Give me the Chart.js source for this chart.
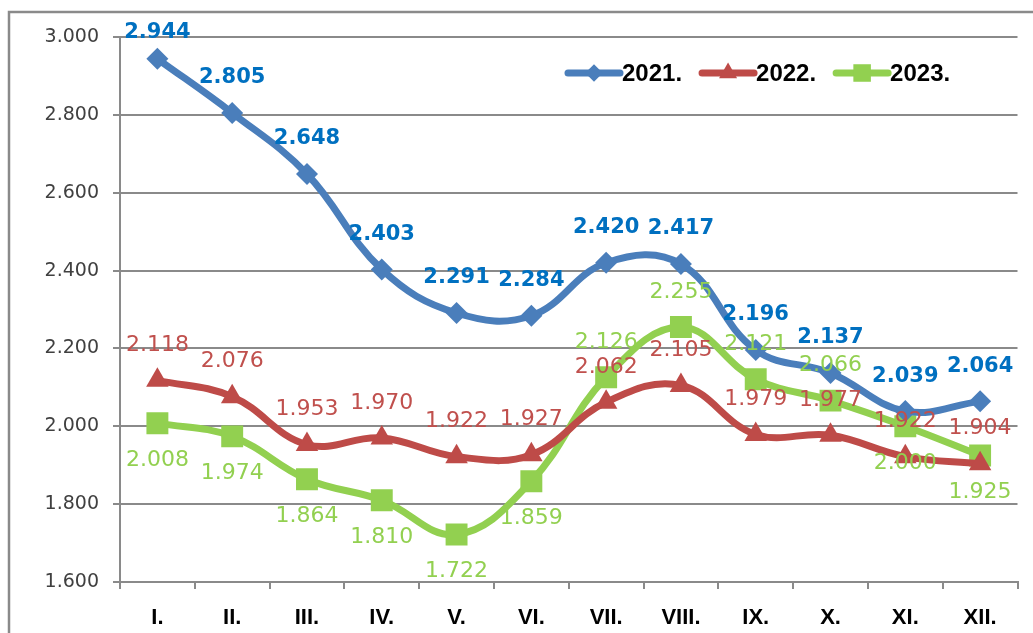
<!DOCTYPE html>
<html>
<head>
<meta charset="utf-8">
<script src="https://cdn.jsdelivr.net/npm/chart.js@4"></script>
<style>
  body { margin: 0; background: #fff; }
  #wrap { width: 1033px; height: 633px; }
</style>
</head>
<body>
<div id="wrap"><canvas id="myChart" width="1033" height="633"></canvas></div>
<script>
// mjeseci
let months = ['I.', 'II.', 'III.', 'IV.', 'V.', 'VI.', 'VII.', 'VIII.', 'IX.', 'X.', 'XI.', 'XII.']

let y2021 = [2944, 2805, 2648, 2403, 2291, 2284, 2420, 2417, 2196, 2137, 2039, 2064]
let y2022 = [2118, 2076, 1953, 1970, 1922, 1927, 2062, 2105, 1979, 1977, 1922, 1904]
let y2023 = [2008, 1974, 1864, 1810, 1722, 1859, 2126, 2255, 2121, 2066, 2000, 1925]

let yMin = 1600
let yMax = 3000
let yStep = 200

// "2944" -> "2.944"
function fmt(v) {
    let s = String(Math.round(v))
    return s.replace(/\B(?=(\d{3})+(?!\d))/g, '.')
}

// where each label goes relative to its point
let side2021 = 'above'
let side2022 = 'above'
let side2023 = ['below', 'below', 'below', 'below', 'below', 'below', 'above', 'above', 'above', 'above', 'below', 'below']

let labelsPlugin = {
    id: 'pointLabels',
    afterDatasetsDraw(chart) {
        let ctx = chart.ctx
        chart.data.datasets.forEach((ds, i) => {
            let meta = chart.getDatasetMeta(i)
            ctx.save()
            ctx.font = ds.labelFont
            ctx.fillStyle = ds.labelColor
            ctx.textAlign = 'center'
            ctx.textBaseline = 'middle'
            meta.data.forEach((pt, j) => {
                let s = Array.isArray(ds.labelSide) ? ds.labelSide[j] : ds.labelSide
                let y = s === 'above' ? pt.y - 35 : pt.y + 37
                if (y < chart.chartArea.top - 4) y = chart.chartArea.top - 4
                ctx.fillText(fmt(ds.data[j]), pt.x, y)
            })
            ctx.restore()
        })
    }
}

let frameLegendPlugin = {
    id: 'frameLegend',
    beforeDraw(chart) {
        let ctx = chart.ctx
        ctx.save()
        ctx.fillStyle = '#fff'
        ctx.fillRect(0, 0, chart.width, chart.height)
        ctx.strokeStyle = '#8a8a8a'
        ctx.lineWidth = 2.5
        ctx.strokeRect(9, 12, chart.width + 40, chart.height + 40)
        ctx.restore()
    },
    afterDraw(chart) {
        let ctx = chart.ctx
        let x = 568
        let y = 73
        ctx.save()
        ctx.font = 'bold 24px "Liberation Sans", Arial, sans-serif'
        ctx.textBaseline = 'middle'
        chart.data.datasets.forEach(ds => {
            ctx.strokeStyle = ds.borderColor
            ctx.lineWidth = 7
            ctx.lineCap = 'round'
            ctx.beginPath()
            ctx.moveTo(x, y)
            ctx.lineTo(x + 52, y)
            ctx.stroke()
            ctx.fillStyle = ds.borderColor
            Chart.helpers.drawPoint(ctx, {
                pointStyle: ds.pointStyle,
                radius: ds.pointRadius * 0.8,
                rotation: 0,
                borderWidth: 0
            }, x + 26, y)
            ctx.fillStyle = '#000'
            ctx.fillText(ds.label, x + 54, y + 1)
            x += 54 + ctx.measureText(ds.label).width + 20
        })
        ctx.restore()
    }
}

new Chart(document.getElementById('myChart'), {
    type: 'line',
    data: {
        labels: months,
        datasets: [{
            label: '2021.',
            data: y2021,
            borderColor: '#4a7ebb',
            backgroundColor: '#4a7ebb',
            borderWidth: 7,
            tension: 0.4,
            pointStyle: 'rectRot',
            pointRadius: 11,
            pointBorderWidth: 0,
            labelColor: '#0070c0',
            labelFont: 'bold 21px "DejaVu Sans", sans-serif',
            labelSide: side2021
        }, {
            label: '2022.',
            data: y2022,
            borderColor: '#be4b48',
            backgroundColor: '#be4b48',
            borderWidth: 7,
            tension: 0.4,
            pointStyle: 'triangle',
            pointRadius: 13,
            pointBorderWidth: 0,
            labelColor: '#c0504d',
            labelFont: '22px "DejaVu Sans", sans-serif',
            labelSide: side2022
        }, {
            label: '2023.',
            data: y2023,
            borderColor: '#92d050',
            backgroundColor: '#92d050',
            borderWidth: 7,
            tension: 0.4,
            pointStyle: 'rect',
            pointRadius: 15.5,
            pointBorderWidth: 0,
            labelColor: '#92d050',
            labelFont: '22px "DejaVu Sans", sans-serif',
            labelSide: side2023
        }]
    },
    options: {
        responsive: false,
        animation: false,
        layout: {
            padding: { left: 0, top: 37, right: 10, bottom: 0 }
        },
        plugins: {
            legend: { display: false },
            tooltip: { enabled: false }
        },
        scales: {
            x: {
                offset: true,
                grid: {
                    offset: true,
                    drawOnChartArea: false,
                    tickLength: 7,
                    color: '#8a8a8a',
                    lineWidth: 2
                },
                border: { color: '#8a8a8a', width: 2 },
                ticks: {
                    color: '#000',
                    padding: 16,
                    font: { family: '"Liberation Sans", Arial, sans-serif', size: 22, weight: 'bold' }
                },
                afterFit(scale) { scale.height = 51 }
            },
            y: {
                min: yMin,
                max: yMax,
                ticks: {
                    stepSize: yStep,
                    color: '#404040',
                    padding: 14,
                    font: { family: '"DejaVu Sans", sans-serif', size: 19 },
                    callback: v => fmt(v)
                },
                grid: {
                    color: '#8a8a8a',
                    lineWidth: 2,
                    tickLength: 7
                },
                border: { color: '#8a8a8a', width: 2 },
                afterFit(scale) { scale.width = 120 }
            }
        }
    },
    plugins: [labelsPlugin, frameLegendPlugin]
});
</script>
</body>
</html>
